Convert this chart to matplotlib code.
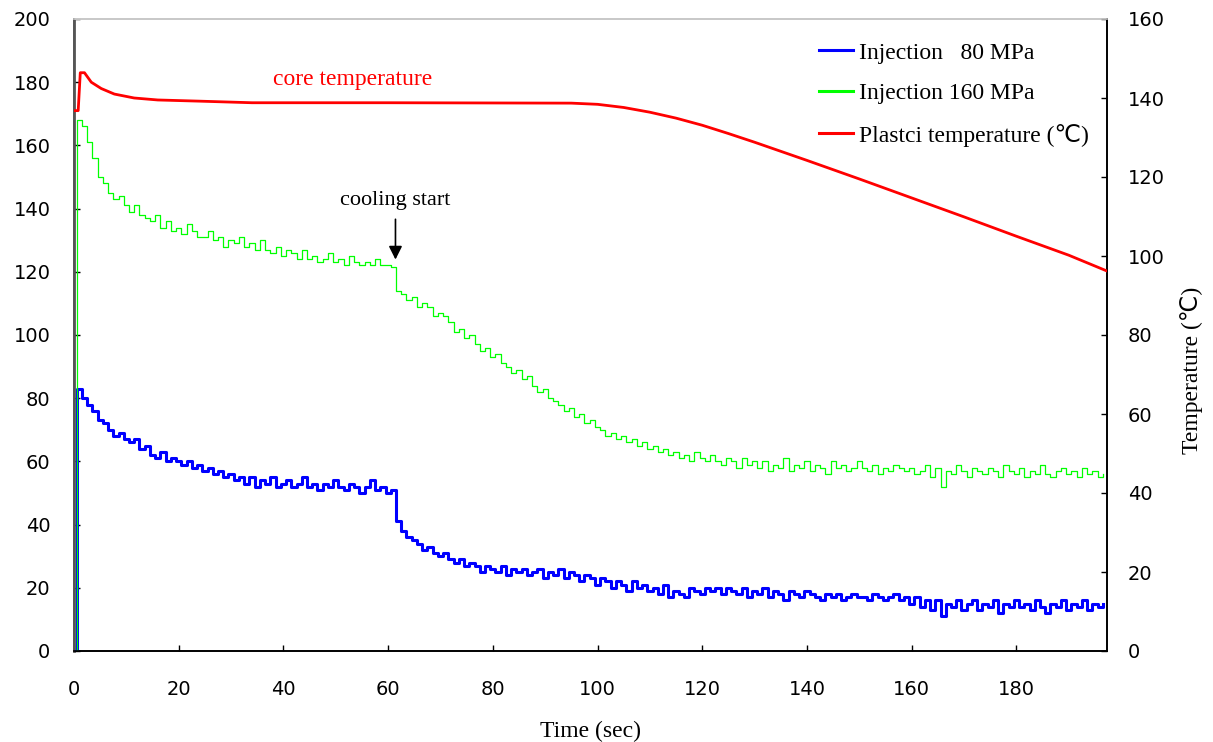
import matplotlib
matplotlib.use("Agg")
import matplotlib.pyplot as plt

# ---------------- data ----------------
# sample times (s): first sample at 0, then one sample per second from 0.5 s
time_s = [0.0] + [i + 0.5 for i in range(197)]

pressure_160 = [
    0, 168, 166, 161, 156, 150, 148, 145, 143, 144,
    141, 139, 141, 138, 137, 136, 138, 134, 136, 133,
    134, 132, 135, 133, 131, 131, 133, 130, 131, 128,
    130, 129, 131, 128, 129, 127, 130, 127, 126, 128,
    125, 127, 126, 124, 127, 124, 125, 123, 124, 126,
    123, 124, 122, 125, 123, 122, 123, 122, 124, 122,
    122, 121.5, 114, 113, 111, 112, 109, 110, 109, 106,
    107, 106, 104, 101, 102, 99, 100, 97, 95, 96,
    93, 94, 91, 90, 88, 89, 86, 87, 84, 82,
    83, 80, 79, 78, 76, 77, 74, 75, 72, 73,
    71, 70, 68, 69, 67, 68, 66, 67, 65, 66,
    64, 65, 63, 64, 62, 63, 61, 62, 60, 63,
    61, 60, 62, 60, 59, 61, 60, 58, 61, 59,
    60, 58, 60, 57, 59, 58, 61, 57, 59, 58,
    60, 57, 59, 58, 56, 60, 58, 59, 57, 58,
    60, 58, 57, 59, 56, 58, 57, 59, 58, 57,
    58, 56, 57, 59, 55, 58, 52, 57, 56, 59,
    57, 55, 58, 57, 56, 58, 57, 55, 59, 57,
    56, 58, 55, 57, 56, 59, 56, 55, 57, 58,
    56, 57, 55, 58, 56, 57, 55, 56,
]

pressure_80 = [
    0, 83, 80, 78, 76, 73, 72, 70, 68, 69,
    67, 66, 67, 64, 65, 62, 61, 63, 60, 61,
    60, 59, 60, 58, 59, 57, 58, 56, 57, 55,
    56, 54, 55, 53, 55, 52, 54, 53, 55, 52,
    53, 54, 52, 53, 55, 52, 53, 51, 53, 52,
    54, 52, 51, 53, 52, 50, 52, 54, 51, 52,
    50, 51, 41, 38, 36, 35, 34, 32, 33, 31,
    30, 31, 29, 28, 29, 27, 28, 27, 25, 27,
    26, 25, 27, 24, 26, 25, 26, 24, 25, 26,
    23, 25, 24, 26, 23, 25, 24, 22, 24, 23,
    21, 23, 22, 20, 22, 21, 19, 22, 20, 21,
    19, 20, 18, 21, 17, 19, 18, 17, 20, 19,
    18, 20, 19, 20, 18, 20, 19, 18, 20, 17,
    19, 18, 20, 17, 19, 18, 16, 19, 18, 17,
    19, 18, 17, 16, 18, 17, 18, 16, 17, 18,
    17, 17, 16, 18, 17, 16, 17, 18, 16, 17,
    15, 17, 14, 16, 13, 16, 11, 15, 14, 16,
    13, 15, 16, 13, 15, 14, 16, 12, 15, 14,
    16, 14, 15, 13, 16, 14, 12, 15, 14, 16,
    13, 15, 14, 16, 13, 15, 14, 15,
]

temp_time = [0, 0.8, 1.2, 2, 3.3, 5.2, 7.7, 11.5, 16, 24, 34, 60, 95,
             100, 105, 110, 115, 120, 125, 130, 135, 140, 150, 160, 170,
             180, 190, 197.3]
plastic_temp = [136.8, 136.8, 146.4, 146.4, 144.0, 142.4, 141.0, 140.0,
                139.5, 139.2, 138.8, 138.8, 138.7,
                138.4, 137.6, 136.4, 134.9, 133.1, 131.0, 128.8, 126.5,
                124.2, 119.5, 114.7, 109.9, 105.0, 100.2, 96.2]

legend_labels = ["Injection   80 MPa", "Injection 160 MPa",
                 "Plastci temperature (\u2103)"]

# ---------------- figure ----------------
W, H = 1213, 742
fig = plt.figure(figsize=(W / 100, H / 100), dpi=100)
ax = fig.add_axes([74 / W, 1 - 651 / H, (1107 - 74) / W, (651 - 19) / H])
ax2 = ax.twinx()

serif = ["Liberation Serif", "DejaVu Sans"]

l80, = ax.plot(time_s, pressure_80, color="#0000ff", lw=2.2,
               drawstyle="steps-post", zorder=3)
l160, = ax.plot(time_s, pressure_160, color="#00ff00", lw=0.9,
                drawstyle="steps-post", zorder=4)
lt, = ax2.plot(temp_time, plastic_temp, color="#ff0000", lw=2.0, zorder=5)

ax.set_xlim(0, 197.3)
ax.set_ylim(0, 200)
ax2.set_ylim(0, 160)
ax.set_xticks(range(0, 181, 20))
ax.set_yticks(range(0, 201, 20))
ax2.set_yticks(range(0, 161, 20))

ax.tick_params(axis="both", direction="in", length=4, width=1,
               labelsize=14, colors="black")
ax.tick_params(axis="y", pad=17)
ax.tick_params(axis="x", pad=21)
ax2.tick_params(axis="y", direction="in", length=4, width=1,
                labelsize=14, pad=15)

for a in (ax, ax2):
    a.spines["top"].set_color("#c8c8c8")
    a.spines["left"].set_color("#555555")
    a.spines["bottom"].set_color("black")
    a.spines["right"].set_color("black")
    for s in a.spines.values():
        s.set_linewidth(1.2)
ax.spines["left"].set_linewidth(2)

# axis labels
fig.text(590 / W, 1 - 731 / H, "Time (sec)", ha="center", va="center",
         fontsize=17, family=serif)
fig.text(1192 / W, 1 - 370 / H, "Temperature (\u2103)", ha="center",
         va="center", rotation=90, fontsize=17, family=serif)

# annotations
ax.text(53.3, 181, "core temperature", color="#ff0000", fontsize=17,
        family=serif, ha="center", va="center")
ax.annotate("", xy=(61.4, 123), xytext=(61.4, 137.5),
            arrowprops=dict(arrowstyle="-|>", color="black", lw=1.2,
                            mutation_scale=20))
ax.text(61.4, 142.5, "cooling start", fontsize=16, family=serif,
        ha="center", va="center")

leg = ax2.legend([l80, l160, lt], legend_labels, loc="upper left",
                 bbox_to_anchor=(819 / W, 1 - 42 / H),
                 bbox_transform=fig.transFigure, frameon=False,
                 prop={"family": serif, "size": 17}, handlelength=1.45,
                 handletextpad=0.25, labelspacing=0.82, borderpad=0,
                 borderaxespad=0)
for h in leg.get_lines():
    h.set_linewidth(2.2)

fig.savefig("out.png", dpi=100)
